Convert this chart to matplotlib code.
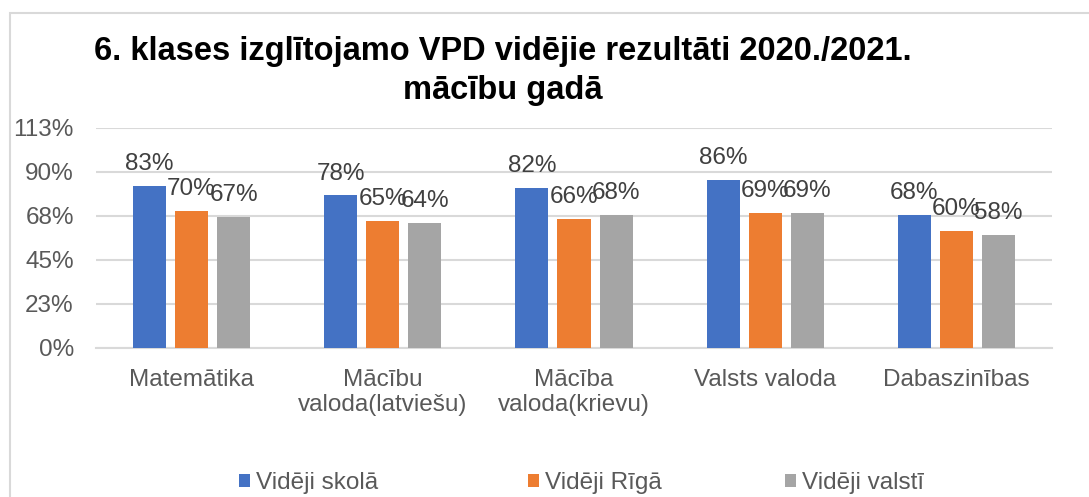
import numpy as np
import matplotlib.pyplot as plt
from matplotlib.patches import Rectangle

plt.rcParams['font.family'] = ['Liberation Sans', 'DejaVu Sans']

# dati
kategorijas = ["Matemātika", "Mācību\nvaloda(latviešu)", "Mācība\nvaloda(krievu)",
               "Valsts valoda", "Dabaszinības"]
videji_skola = [0.83, 0.78, 0.82, 0.86, 0.68]
videji_riga = [0.70, 0.65, 0.66, 0.69, 0.60]
videji_valsti = [0.67, 0.64, 0.68, 0.69, 0.58]
serijas = ["Vidēji skolā", "Vidēji Rīgā", "Vidēji valstī"]
y_ticks = [0, 0.225, 0.45, 0.675, 0.9, 1.125]
y_tick_labels = ["0%", "23%", "45%", "68%", "90%", "113%"]

krasas = ["#4472C4", "#ED7D31", "#A5A5A5"]
teksts = "#595959"
fs = 17.5

fig = plt.figure(figsize=(10.89, 4.97), dpi=100)
ax = fig.add_axes([96/1089, 1-348/497, (1052-96)/1089, (348-128)/497])

x = np.arange(len(kategorijas))
w = 0.173
step = 0.22
handles = []
for i, (vals, name, c) in enumerate(zip([videji_skola, videji_riga, videji_valsti], serijas, krasas)):
    bars = ax.bar(x + (i-1)*step, vals, width=w, color=c, label=name, zorder=3)
    handles.append(bars)
    for b, v in zip(bars, vals):
        ax.text(b.get_x() + b.get_width()/2, v + 0.055, f"{round(v*100)}%",
                ha="center", va="bottom", fontsize=fs, color="#404040", zorder=4)

ax.set_xlim(-0.5, len(kategorijas)-0.5)
ax.set_ylim(0, 1.125)
ax.set_yticks(y_ticks)
ax.set_yticklabels(y_tick_labels)
ax.set_xticks(x)
ax.set_xticklabels(kategorijas, linespacing=1.2)
ax.tick_params(axis="y", length=0, pad=16, labelsize=fs, labelcolor=teksts)
ax.tick_params(axis="x", length=0, pad=15, labelsize=fs, labelcolor=teksts)
ax.grid(axis="y", color="#D9D9D9", linewidth=1.5, zorder=0)
for s in ["top", "right", "left"]:
    ax.spines[s].set_visible(False)
ax.spines["bottom"].set_color("#D9D9D9")
ax.spines["bottom"].set_linewidth(1.5)

fig.text(503/1089, 1-71/497, "6. klases izglītojamo VPD vidējie rezultāti 2020./2021.\nmācību gadā",
         ha="center", va="center", fontsize=23.5, fontweight="bold", color="black", linespacing=1.32)

# leģenda - katrs ieraksts savā vietā
for h, name, xpos in zip(handles, serijas, [217, 506, 763]):
    fig.legend([h], [name], loc="center left", bbox_to_anchor=(xpos/1089, 1-483/497),
               frameon=False, fontsize=fs, handlelength=0.45, handleheight=0.45,
               handletextpad=0.25, labelcolor=teksts)

# ramja līnija
fig.patches.append(Rectangle((10/1089, -0.2), 1.5, 1.2 - 13/497, transform=fig.transFigure,
                             fill=False, edgecolor="#D9D9D9", linewidth=1.5))

fig.savefig("out.png", dpi=100)
